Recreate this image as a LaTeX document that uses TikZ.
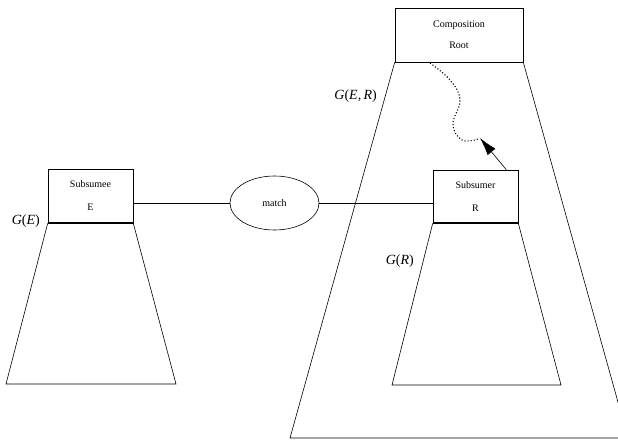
\documentclass[tikz,border=0pt]{standalone}
\usepackage{fontspec}
\setmainfont{Liberation Serif}
\usetikzlibrary{arrows.meta,shapes.geometric}

\tikzset{
  thin line/.style={line width=0.6pt, black},
  comp box/.style={draw, line width=0.6pt, minimum width=#1, inner sep=0pt, align=center,
    font=\fontsize{10}{12}\selectfont},
  comp box/.default=85pt,
  base edge/.style={line width=2pt, line cap=butt},
  graph label/.style={inner sep=0pt, font=\fontsize{14}{16}\selectfont},
}

\begin{document}
\begin{tikzpicture}[x=1pt, y=-1pt]
  \useasboundingbox (0,0) rectangle (618,439);

  % components
  \node[comp box=128pt, minimum height=54pt] (root) at (459,35)
    {Composition\\[9pt]Root};
  \node[comp box=85pt, minimum height=54pt] (subsumee) at (90.5,196)
    {Subsumee\\[11pt]E};
  \node[comp box=85pt, minimum height=53pt] (subsumer) at (475.5,196.5)
    {Subsumer\\[11pt]R};
  \node[draw, thin line, ellipse, minimum width=89pt, minimum height=54pt, inner sep=0pt,
        font=\fontsize{10}{12}\selectfont] (match) at (274.5,203) {match};

  % composition graph G(E,R) hanging below the root
  \coordinate (gerBL) at (290,438);
  \coordinate (gerBR) at (628,438);
  \draw[thin line] (root.south west) -- (gerBL) -- (gerBR) -- (root.south east);

  % graph G(E) below the subsumee
  \coordinate (geBL) at (6,384);
  \coordinate (geBR) at (176,384);
  \draw[thin line] (subsumee.south west) -- (geBL) -- (geBR) -- (subsumee.south east);
  \draw[base edge] (subsumee.south west) -- (subsumee.south east);

  % graph G(R) below the subsumer
  \coordinate (grBL) at (392,385);
  \coordinate (grBR) at (561,385);
  \draw[thin line] (subsumer.south west) -- (grBL) -- (grBR) -- (subsumer.south east);
  \draw[base edge] (subsumer.south west) -- (subsumer.south east);

  % matching connectors
  \draw[thin line] (match.west -| subsumee.east) -- (match.west);
  \draw[thin line] (match.east) -- (match.east -| subsumer.west);

  % path from the subsumer up to the root
  \coordinate (pathEnd) at (480,138);
  \draw[thin line, -{Latex[length=18pt, width=10pt]}] (subsumer.north east) ++(-12,0) coordinate (pathStart)
    (pathStart) -- (pathEnd);
  \draw[line width=1.1pt, dotted] plot[smooth, tension=0.7] coordinates
    {(430,63) (450,80) (460,100) (453,124) (462,140) (478,139)};

  % labels
  \node[graph label, anchor=east] (lger) at (377,96) {\textit{G}(\textit{E},\,\textit{R})};
  \node[graph label, anchor=east] (lge) at (40,221) {\textit{G}(\textit{E})};
  \node[graph label, anchor=east] (lgr) at (414,261) {\textit{G}(\textit{R})};
\end{tikzpicture}
\end{document}
